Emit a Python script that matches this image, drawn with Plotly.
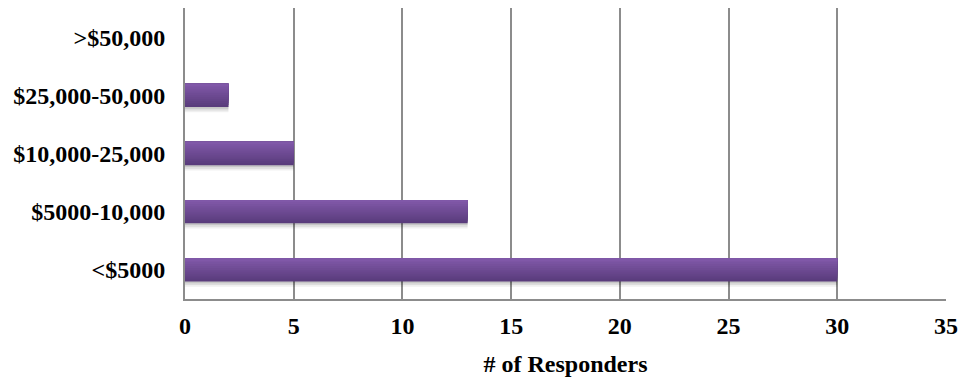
import plotly.graph_objects as go

categories = ["<$5000", "$5000-10,000", "$10,000-25,000", "$25,000-50,000", ">$50,000"]
responders = [30, 13, 5, 2, 0]
x_ticks = [0, 5, 10, 15, 20, 25, 30, 35]

fig = go.Figure()

bar_width = 0.4
positions = list(range(len(categories)))

# soft drop shadow under each bar
for shift, alpha in [(0.09, 0.06), (0.06, 0.08), (0.03, 0.10)]:
    fig.add_trace(go.Bar(
        y=positions, x=responders, orientation="h",
        width=bar_width, offset=-bar_width / 2 - shift,
        marker=dict(color=f"rgba(0,0,0,{alpha})", line=dict(width=0)),
        hoverinfo="skip", showlegend=False,
    ))

# vertical gradient: each layer starts higher and is lighter, all reaching the top edge
top_rgb = (128, 88, 168)
bottom_rgb = (90, 60, 124)
n_bands = 12
band = bar_width / n_bands
for i in range(n_bands):
    t = i / (n_bands - 1)
    r = round(bottom_rgb[0] + (top_rgb[0] - bottom_rgb[0]) * t)
    g = round(bottom_rgb[1] + (top_rgb[1] - bottom_rgb[1]) * t)
    b = round(bottom_rgb[2] + (top_rgb[2] - bottom_rgb[2]) * t)
    fig.add_trace(go.Bar(
        y=positions, x=responders, orientation="h",
        width=bar_width - i * band, offset=-bar_width / 2 + i * band,
        marker=dict(color=f"rgb({r},{g},{b})", line=dict(width=0)),
        hoverinfo="skip", showlegend=False,
    ))

font = dict(family="Liberation Serif, Times New Roman, serif", size=24, color="#000000")

fig.update_layout(
    width=961, height=379,
    margin=dict(l=185, r=15, t=8, b=80),
    paper_bgcolor="white", plot_bgcolor="white",
    barmode="overlay",
    font=font,
    xaxis=dict(
        range=[0, 35], tickvals=x_ticks, ticktext=[f"<b>{v}</b>" for v in x_ticks],
        showgrid=True, gridcolor="#8c8c8c", gridwidth=2,
        showline=True, linecolor="#8c8c8c", linewidth=2,
        zeroline=False, ticks="", ticklen=0, automargin=False,
        ticklabelstandoff=4,
        title=dict(text="<b># of Responders</b>", font=font, standoff=17),
    ),
    yaxis=dict(
        range=[-0.5, 4.5], tickvals=positions,
        ticktext=[f"<b>{c}</b>" for c in categories],
        showgrid=False, zeroline=False,
        showline=True, linecolor="#8c8c8c", linewidth=2,
        automargin=False,
        ticks="", ticklen=0, ticklabelstandoff=13,
    ),
)

fig.write_html("out.html")
